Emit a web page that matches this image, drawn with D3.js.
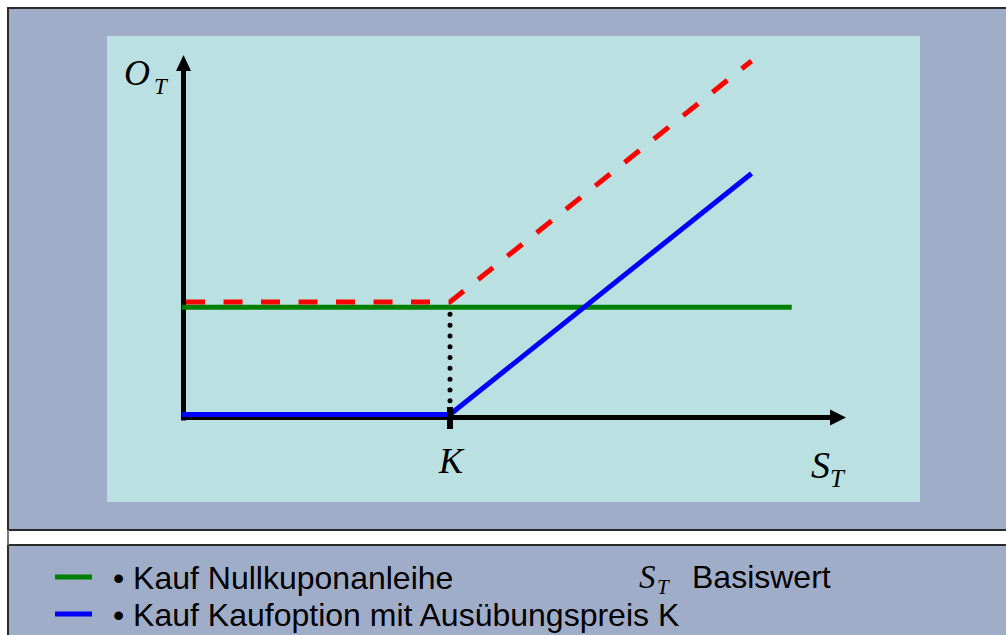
<!DOCTYPE html>
<html>
<head>
<meta charset="utf-8">
<script src="https://cdn.jsdelivr.net/npm/d3@7"></script>
<style>
  body { margin: 0; background: #ffffff; }
  svg { display: block; }
  .serif { font-family: "Liberation Serif", "Times New Roman", serif; font-style: italic; }
  .sans { font-family: "Liberation Sans", Arial, sans-serif; }
</style>
</head>
<body>
<div id="chart"></div>
<script>
// payoff diagram: bond + call = protective strategy
const strikeK = 40;
const bondLevel = 20;
// series (S_T, O_T)
const bondPoints = [[0, 20], [91, 20]];
const callPoints = [[0, 0], [40, 0], [85, 45]];
const sumPoints = [[0, 21], [40, 21], [85, 66]];
const legendLabels = ["\u2022 Kauf Nullkuponanleihe", "\u2022 Kauf Kaufoption mit Ausübungspreis K"];
const legendColors = ["#008000", "#0000ff"];

const W = 1006, H = 635;

var svg = d3.select("#chart").append("svg")
    .attr("width", W)
    .attr("height", H);

// frames
svg.append("rect")
    .attr("x", 8).attr("y", 8)
    .attr("width", 1010).attr("height", 522)
    .style("fill", "#a0adc8")
    .style("stroke", "#2a2a2a")
    .style("stroke-width", 2);
svg.append("rect")
    .attr("x", 8).attr("y", 545)
    .attr("width", 1010).attr("height", 100)
    .style("fill", "#a0adc8")
    .style("stroke", "#2a2a2a")
    .style("stroke-width", 2);
svg.append("line")
    .attr("x1", 8).attr("x2", 8).attr("y1", 530).attr("y2", 545)
    .style("stroke", "#777").style("stroke-width", 2);

// inner plot area
svg.append("rect")
    .attr("x", 107).attr("y", 36)
    .attr("width", 813).attr("height", 466)
    .style("fill", "#bae0e2");

var xScale = d3.scaleLinear().domain([0, 100]).range([182, 852]);
var yScale = d3.scaleLinear().domain([0, 60]).range([414.5, 93.1]);

var line = d3.line()
    .x(d => xScale(d[0]))
    .y(d => yScale(d[1]));

// axes (arrows)
var x0 = xScale(0), y0 = yScale(0) + 3;
var xEnd = xScale(99.1), yEnd = yScale(67.1);

svg.append("line")
    .attr("x1", x0 - 1).attr("x2", xEnd - 12)
    .attr("y1", y0).attr("y2", y0)
    .style("stroke", "#000").style("stroke-width", 5);
svg.append("path")
    .attr("d", `M${xEnd},${y0} L${xEnd - 16},${y0 - 8} L${xEnd - 16},${y0 + 8} Z`)
    .style("fill", "#000");

svg.append("line")
    .attr("x1", x0 + 1.5).attr("x2", x0 + 1.5)
    .attr("y1", y0 + 3).attr("y2", yEnd + 12)
    .style("stroke", "#000").style("stroke-width", 5);
svg.append("path")
    .attr("d", `M${x0 + 1.5},${yEnd} L${x0 - 6},${yEnd + 16} L${x0 + 9},${yEnd + 16} Z`)
    .style("fill", "#000");

// dotted guide at K
svg.append("line")
    .attr("x1", xScale(strikeK)).attr("x2", xScale(strikeK))
    .attr("y1", yScale(bondLevel) + 7).attr("y2", y0 - 8)
    .style("stroke", "#000")
    .style("stroke-width", 5)
    .style("stroke-linecap", "round")
    .style("stroke-dasharray", "0 10.8");

// bond (green)
svg.append("path")
    .attr("d", line(bondPoints))
    .style("fill", "none")
    .style("stroke", "#008000")
    .style("stroke-width", 5);

// sum (red dashed)
svg.append("path")
    .attr("d", line(sumPoints.map(d => d[0] === 0 ? [0.6, d[1]] : d)))
    .style("fill", "none")
    .style("stroke", "#ff0000")
    .style("stroke-width", 5)
    .style("stroke-dasharray", "19 18.5");

// call (blue)
svg.append("path")
    .attr("d", line(callPoints))
    .style("fill", "none")
    .style("stroke", "#0000ff")
    .style("stroke-width", 5);

// K tick
svg.append("rect")
    .attr("x", xScale(strikeK) - 3).attr("y", 407)
    .attr("width", 6).attr("height", 22)
    .style("fill", "#000");

// labels
var oT = svg.append("text").attr("class", "serif").attr("x", 124).attr("y", 85);
oT.append("tspan").style("font-size", "36px").text("O");
oT.append("tspan").attr("x", 154).attr("y", 94).style("font-size", "23px").text("T");

svg.append("text").attr("class", "serif")
    .attr("x", xScale(strikeK) + 1).attr("y", 473)
    .attr("text-anchor", "middle")
    .style("font-size", "36px")
    .text("K");

var sT = svg.append("text").attr("class", "serif").attr("x", 811).attr("y", 478);
sT.append("tspan").style("font-size", "38px").text("S");
sT.append("tspan").attr("y", 487).style("font-size", "25px").text("T");

// legend
var legendY = [577, 614];
legendLabels.forEach(function(lbl, i) {
    svg.append("line")
        .attr("x1", 55).attr("x2", 92)
        .attr("y1", legendY[i]).attr("y2", legendY[i])
        .style("stroke", legendColors[i])
        .style("stroke-width", 5);
    svg.append("text").attr("class", "sans")
        .attr("x", 113).attr("y", legendY[i] + 12)
        .style("font-size", "32px")
        .text(lbl);
});

var lgS = svg.append("text").attr("class", "serif").attr("x", 639).attr("y", 588);
lgS.append("tspan").style("font-size", "33px").text("S");
lgS.append("tspan").attr("x", 657).attr("y", 594).style("font-size", "21px").text("T");
svg.append("text").attr("class", "sans")
    .attr("x", 692).attr("y", 588)
    .style("font-size", "32px")
    .text("Basiswert");
</script>
</body>
</html>
